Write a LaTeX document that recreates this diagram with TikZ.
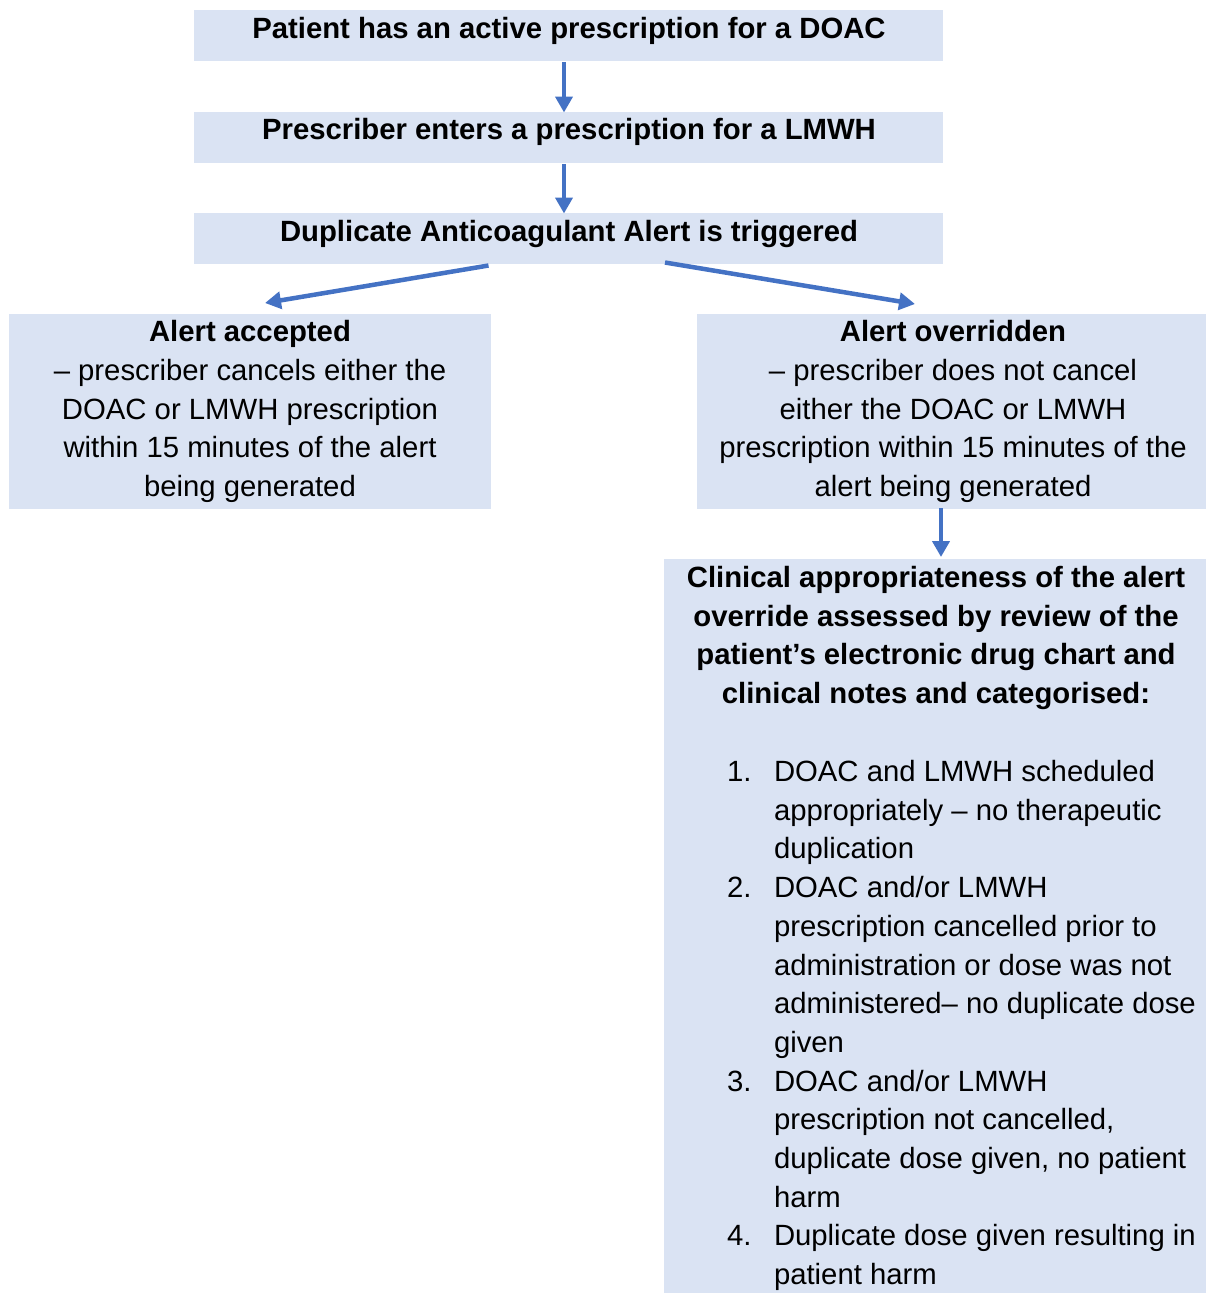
\documentclass[tikz,border=0pt]{standalone}
\usepackage{fontspec}
\setmainfont{Liberation Sans}
\usetikzlibrary{arrows.meta}
\definecolor{boxfill}{HTML}{DAE3F3}
\definecolor{arrowblue}{HTML}{4472C4}
\begin{document}
\begin{tikzpicture}[x=1pt,y=-1pt,
  box/.style={fill=boxfill, draw=none, inner sep=0pt, outer sep=0pt, anchor=north west},
  flow/.style={draw=arrowblue, line width=4.5pt, -{Triangle[length=16pt,width=17pt]}},
  txt/.style={inner sep=0pt, outer sep=0pt, font=\fontsize{29.3}{38.7}\selectfont, align=center},
  txtb/.style={txt, font=\fontsize{29.3}{38.7}\selectfont\bfseries}]
\useasboundingbox (0,0) rectangle (1206,1293);
% boxes
\node[box, minimum width=749pt, minimum height=50.5pt] (b1) at (194,10) {};
\node[box, minimum width=749pt, minimum height=50.5pt] (b2) at (194,112) {};
\node[box, minimum width=749pt, minimum height=50.5pt] (b3) at (194,213) {};
\node[box, minimum width=482pt, minimum height=195pt] (bl) at (9,314) {};
\node[box, minimum width=509pt, minimum height=195pt] (br) at (697,314) {};
\node[box, minimum width=542pt, minimum height=734pt] (bb) at (664,559) {};
% texts (base anchor = baseline of last line)
\node[txtb, anchor=base] (t1) at (569,38.5) {Patient has an active prescription for a DOAC};
\node[txtb, anchor=base] (t2) at (569,139.5) {Prescriber enters a prescription for a LMWH};
\node[txtb, anchor=base] (t3) at (569,241.5) {Duplicate Anticoagulant Alert is triggered};
\node[txt, anchor=base] (tl) at (250,496.5) {\textbf{Alert accepted}\\– prescriber cancels either the\\DOAC or LMWH prescription\\within 15 minutes of the alert\\being generated};
\node[txt, anchor=base] (tr) at (953,496.5) {\textbf{Alert overridden}\\– prescriber does not cancel\\either the DOAC or LMWH\\prescription within 15 minutes of the\\alert being generated};
\node[txtb, anchor=base] (th) at (936,703.6) {Clinical appropriateness of the alert\\override assessed by review of the\\patient’s electronic drug chart and\\clinical notes and categorised:};
\node[txt, align=left, anchor=base west] (tlist) at (727,1284.6) {%
\makebox[47pt][l]{1.}DOAC and LMWH scheduled\\
\hspace*{47pt}appropriately – no therapeutic\\
\hspace*{47pt}duplication\\
\makebox[47pt][l]{2.}DOAC and/or LMWH\\
\hspace*{47pt}prescription cancelled prior to\\
\hspace*{47pt}administration or dose was not\\
\hspace*{47pt}administered– no duplicate dose\\
\hspace*{47pt}given\\
\makebox[47pt][l]{3.}DOAC and/or LMWH\\
\hspace*{47pt}prescription not cancelled,\\
\hspace*{47pt}duplicate dose given, no patient\\
\hspace*{47pt}harm\\
\makebox[47pt][l]{4.}Duplicate dose given resulting in\\
\hspace*{47pt}patient harm};
% connectors
\draw[flow] ([shift={(-4.5,1.5)}]b1.south) -- ([shift={(-4.5,0.5)}]b2.north);
\draw[flow] ([shift={(-4.5,1.5)}]b2.south) -- ([shift={(-4.5,0.5)}]b3.north);
\draw[flow] ([shift={(-80,2)}]b3.south) -- ([shift={(15,-11)}]bl.north);
\draw[flow] ([shift={(96.5,-1)}]b3.south) -- ([shift={(-36.5,-10)}]br.north);
\draw[flow] ([shift={(-10.5,-1)}]br.south) -- ([shift={(6,-2)}]bb.north);
\end{tikzpicture}
\end{document}
